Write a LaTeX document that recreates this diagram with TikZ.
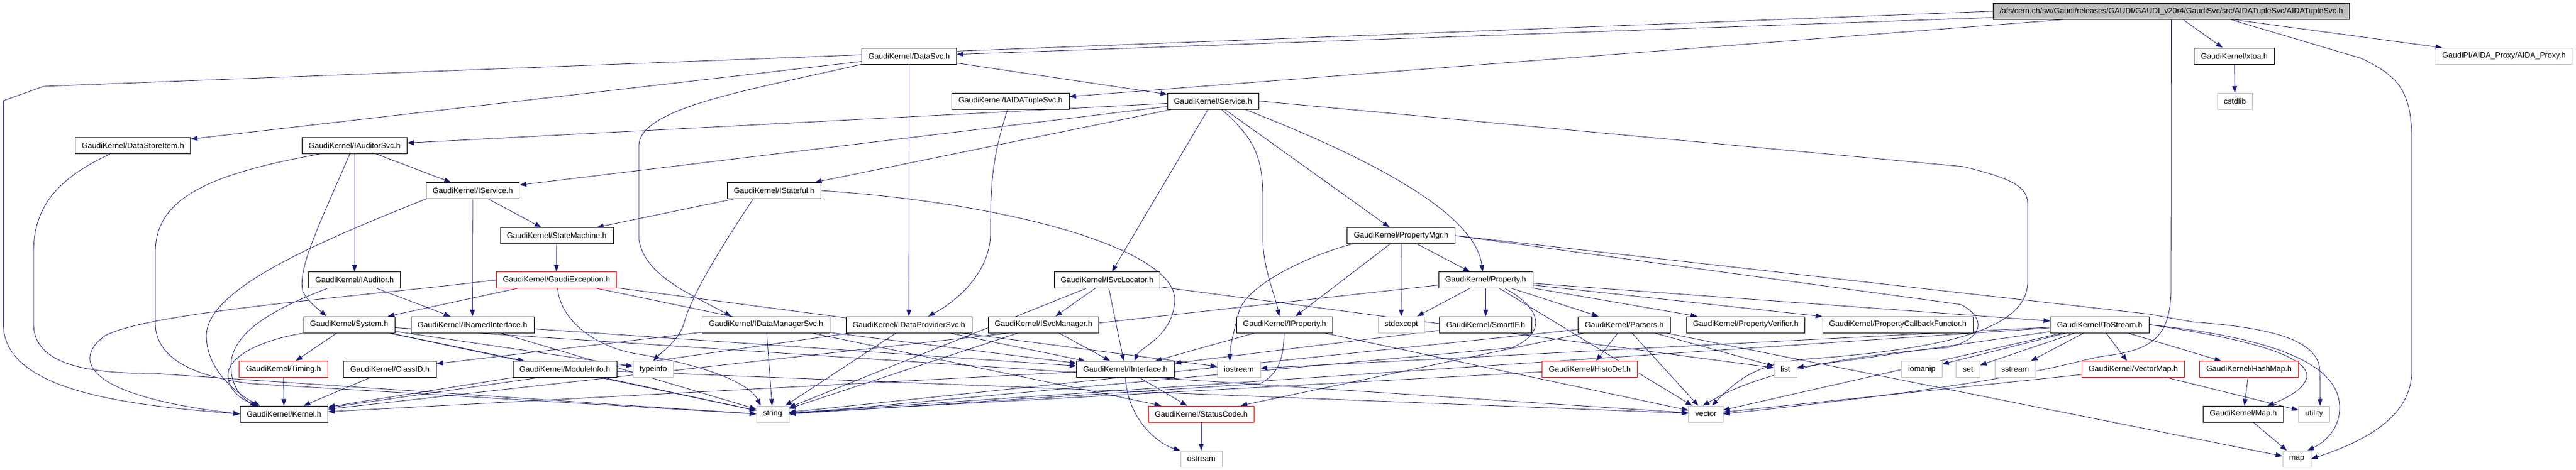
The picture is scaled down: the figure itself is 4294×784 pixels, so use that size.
\documentclass[tikz,border=0pt]{standalone}
\usepackage{fontspec}
\setmainfont{Liberation Sans}
\usepackage{xcolor}
\usepackage{tikz}
\usetikzlibrary{arrows.meta,backgrounds}

\definecolor{edgeblue}{HTML}{191970}
\definecolor{boxgray}{HTML}{BFBFBF}

\begin{document}
\begin{tikzpicture}[x=1pt,y=-1pt,
  box/.style={draw=black,fill=white,line width=0.8pt,minimum height=27pt,inner xsep=11pt,inner ysep=0pt,font=\fontsize{13}{15}\selectfont},
  sysbox/.style={box,draw=boxgray},
  redbox/.style={box,draw=red},
  topbox/.style={box,fill=boxgray},
  dep/.style={draw=edgeblue,line width=0.8pt,-{Triangle[length=11pt,width=8pt]}}]
  \useasboundingbox (0,0) rectangle (4294,784);

  % rows of the include graph
  \node[topbox] (top) at (3619.4,18.8) {/afs/cern.ch/sw/Gaudi/releases/GAUDI/GAUDI\_v20r4/GaudiSvc/src/AIDATupleSvc/AIDATupleSvc.h};
  \node[box] (datasvc) at (1515.5,93.5) {GaudiKernel/DataSvc.h};
  \node[box] (xtoa) at (3724.5,93.5) {GaudiKernel/xtoa.h};
  \node[sysbox] (aidaproxy) at (4174,93.5) {GaudiPI/AIDA\_Proxy/AIDA\_Proxy.h};
  \node[box] (iaidatuplesvc) at (1684.5,168.5) {GaudiKernel/IAIDATupleSvc.h};
  \node[box] (service) at (2022,168.5) {GaudiKernel/Service.h};
  \node[sysbox] (cstdlib) at (3725.4,168.5) {cstdlib};
  \node[box] (datastoreitem) at (221.5,243) {GaudiKernel/DataStoreItem.h};
  \node[box] (iauditorsvc) at (591,243) {GaudiKernel/IAuditorSvc.h};
  \node[box] (iservice) at (788,318) {GaudiKernel/IService.h};
  \node[box] (istateful) at (1290.5,318) {GaudiKernel/IStateful.h};
  \node[box] (statemachine) at (928,393) {GaudiKernel/StateMachine.h};
  \node[box] (propertymgr) at (2335.5,393) {GaudiKernel/PropertyMgr.h};
  \node[box] (iauditor) at (591,467) {GaudiKernel/IAuditor.h};
  \node[redbox] (gaudiexception) at (927.5,467) {GaudiKernel/GaudiException.h};
  \node[box] (isvclocator) at (1845.4,467) {GaudiKernel/ISvcLocator.h};
  \node[box] (property) at (2476.5,467) {GaudiKernel/Property.h};
  \node[box] (system) at (582,541.5) {GaudiKernel/System.h};
  \node[box] (inamedinterface) at (787.5,541.5) {GaudiKernel/INamedInterface.h};
  \node[box] (idatamanagersvc) at (1277,541.5) {GaudiKernel/IDataManagerSvc.h};
  \node[box] (idataprovidersvc) at (1515,541.5) {GaudiKernel/IDataProviderSvc.h};
  \node[box] (isvcmanager) at (1739.5,541.5) {GaudiKernel/ISvcManager.h};
  \node[box] (iproperty) at (2141.4,541.5) {GaudiKernel/IProperty.h};
  \node[sysbox] (stdexcept) at (2336,541.5) {stdexcept};
  \node[box] (smartif) at (2476.5,541.5) {GaudiKernel/SmartIF.h};
  \node[box] (parsers) at (2707.5,541.5) {GaudiKernel/Parsers.h};
  \node[box] (propertyverifier) at (2910,541.5) {GaudiKernel/PropertyVerifier.h};
  \node[box] (propertycallbackfunctor) at (3163.5,541.5) {GaudiKernel/PropertyCallbackFunctor.h};
  \node[box] (tostream) at (3500,541.5) {GaudiKernel/ToStream.h};
  \node[redbox] (timing) at (472.5,616) {GaudiKernel/Timing.h};
  \node[box] (classid) at (650,616) {GaudiKernel/ClassID.h};
  \node[box] (moduleinfo) at (941.5,616) {GaudiKernel/ModuleInfo.h};
  \node[sysbox] (typeinfo) at (1089,616) {typeinfo};
  \node[box] (iinterface) at (1876,616) {GaudiKernel/IInterface.h};
  \node[sysbox] (iostream) at (2065,616) {iostream};
  \node[redbox] (histodef) at (2650,616) {GaudiKernel/HistoDef.h};
  \node[sysbox] (list) at (2976,616) {list};
  \node[sysbox] (iomanip) at (3203.5,616) {iomanip};
  \node[sysbox] (set) at (3280.5,616) {set};
  \node[sysbox] (sstream) at (3359,616) {sstream};
  \node[redbox] (vectormap) at (3556,616) {GaudiKernel/VectorMap.h};
  \node[redbox] (hashmap) at (3749,616) {GaudiKernel/HashMap.h};
  \node[box] (kernel) at (473.4,690.5) {GaudiKernel/Kernel.h};
  \node[sysbox] (string) at (1288,690.5) {string};
  \node[redbox] (statuscode) at (2002.4,690.5) {GaudiKernel/StatusCode.h};
  \node[sysbox] (vector) at (2843.5,690.5) {vector};
  \node[box] (mapheader) at (3739.4,690.5) {GaudiKernel/Map.h};
  \node[sysbox] (utility) at (3857.4,690.5) {utility};
  \node[sysbox] (ostream) at (2002.4,765.5) {ostream};
  \node[sysbox] (map) at (3828.5,765.5) {map};

  \begin{scope}[on background layer]
  \fill[white] (0,0) rectangle (4294,784);
  % straight includes
  \foreach \from/\to in {top/datasvc,top/iaidatuplesvc,top/xtoa,top/aidaproxy,
    datasvc/datastoreitem,datasvc/service,datasvc/idataprovidersvc,
    service/iauditorsvc,service/iservice,service/istateful,service/isvclocator,service/propertymgr,
    xtoa/cstdlib,iauditorsvc/iservice,iauditorsvc/iauditor,
    iservice/inamedinterface,iservice/statemachine,istateful/statemachine,
    statemachine/gaudiexception,gaudiexception/system,gaudiexception/statuscode,gaudiexception/iostream,
    iauditor/inamedinterface,
    system/timing,system/moduleinfo,system/typeinfo,system/string,system/vector,
    timing/kernel,classid/kernel,moduleinfo/kernel,moduleinfo/string,moduleinfo/vector,
    inamedinterface/iinterface,inamedinterface/string,
    idatamanagersvc/iinterface,idatamanagersvc/classid,idatamanagersvc/string,
    idataprovidersvc/iinterface,idataprovidersvc/string,idataprovidersvc/kernel,
    isvclocator/iinterface,isvclocator/isvcmanager,isvclocator/list,isvclocator/string,
    isvcmanager/iinterface,isvcmanager/string,
    iinterface/kernel,iinterface/statuscode,statuscode/ostream,
    propertymgr/iproperty,propertymgr/stdexcept,propertymgr/property,
    property/stdexcept,property/smartif,property/parsers,property/propertyverifier,
    property/propertycallbackfunctor,property/tostream,property/vector,property/kernel,
    iproperty/iinterface,iproperty/vector,smartif/iinterface,
    parsers/histodef,parsers/statuscode,parsers/string,parsers/vector,parsers/list,parsers/map,
    histodef/string,
    tostream/iostream,tostream/list,tostream/iomanip,tostream/set,tostream/sstream,
    tostream/vectormap,tostream/hashmap,tostream/vector,tostream/string,
    vectormap/vector,vectormap/utility,hashmap/mapheader,mapheader/map}
    \draw[dep] (\from) -- (\to);

  % routed includes
  \draw[dep] (top.west) -- (73,144) -- (5.5,168) -- (5.5,540) .. controls (5.5,650) and (200,675) .. (kernel.west);
  \draw[dep] ([xshift=99pt]top.south) -- (3935,97) .. controls (3995,125) and (4020,150) .. (4020,230) -- (4020,620) .. controls (4020,700) and (3930,740) .. (map.east);
  \draw[dep] (top.south) -- (3619,480) .. controls (3619,570) and (3580,585) .. (3500,595) .. controls (3430,610) and (3350,640) .. (vector.east);
  \draw[dep] ([xshift=-38pt]datastoreitem.south) .. controls (90,300) and (56,350) .. (56,420) -- (56,540) .. controls (56,610) and (150,623) .. (257,623) -- (string.west);
  \draw[dep] (datasvc.south west) .. controls (1250,150) and (1065,180) .. (1065,243) -- (1065,400) .. controls (1075,460) and (1150,490) .. ([xshift=-58pt]idatamanagersvc.north);
  \draw[dep] ([xshift=-5pt]iaidatuplesvc.south) .. controls (1655,260) and (1651,300) .. (1651,390) .. controls (1651,450) and (1600,500) .. ([xshift=32pt]idataprovidersvc.north);
  \draw[dep] ([xshift=14pt]service.south) .. controls (2090,230) and (2105,260) .. (2105,330) -- (2105,400) .. controls (2106,450) and (2125,490) .. ([xshift=-9pt]iproperty.north);
  \draw[dep] ([xshift=53pt]service.south) .. controls (2300,270) and (2460,360) .. ([xshift=-5pt]property.north);
  \draw[dep] (service.east) -- (3273,278) .. controls (3350,297) and (3380,310) .. (3380,340) -- (3380,470) .. controls (3380,560) and (3200,585) .. (3000,600) .. controls (2920,610) and (2890,640) .. ([xshift=10pt]vector.north);
  \draw[dep] ([xshift=-58pt]iauditorsvc.south) .. controls (350,290) and (259,330) .. (259,420) -- (259,540) .. controls (259,600) and (330,630) .. (420,640) -- (string.west);
  \draw[dep] ([xshift=-8pt]iauditorsvc.south) .. controls (530,380) and (495,450) .. (505,487) .. controls (515,505) and (530,515) .. ([xshift=-38pt]system.north);
  \draw[dep] (iservice.south west) .. controls (541,400) and (344,480) .. (344,560) .. controls (344,620) and (400,660) .. ([xshift=-40pt]kernel.north);
  \draw[dep] (istateful.east) .. controls (1700,340) and (1960,420) .. (1958,500) .. controls (1957,560) and (1900,580) .. ([xshift=15pt]iinterface.north);
  \draw[dep] ([xshift=-35pt]istateful.south) .. controls (1190,430) and (1150,500) .. (1140,540) .. controls (1130,570) and (1100,590) .. (typeinfo.north);
  \draw[dep] (gaudiexception.west) .. controls (600,495) and (250,520) .. (175,560) .. controls (120,600) and (140,660) .. (kernel.west);
  \draw[dep] ([xshift=2pt]gaudiexception.south) .. controls (935,540) and (1000,580) .. (1060,590) .. controls (1180,610) and (1250,640) .. ([xshift=-20pt]string.north);
  \draw[dep] ([xshift=-45pt]iauditor.south) .. controls (470,510) and (385,550) .. (385,610) .. controls (385,650) and (410,670) .. ([xshift=-42pt]kernel.north);
  \draw[dep] ([xshift=-75pt]system.south) .. controls (420,570) and (380,600) .. (380,625) .. controls (380,650) and (400,665) .. ([xshift=-45pt]kernel.north);
  \draw[dep] ([xshift=32pt]property.south) .. controls (2580,520) and (2570,560) .. (2520,580) -- (string.east);
  \draw[dep] ([xshift=-1pt]iproperty.south) .. controls (2140,600) and (2130,625) .. (2100,640) -- (string.east);
  \draw[dep] (iinterface.south) .. controls (1880,700) and (1930,740) .. (ostream.north west);
  \draw[dep] ([xshift=-80pt]propertymgr.south) .. controls (2200,420) and (2080,470) .. (2065,520) .. controls (2055,560) and (2050,580) .. ([xshift=-15pt]iostream.north);
  \draw[dep] (propertymgr.east) -- (3269,508) .. controls (3310,530) and (3310,565) .. (3245,580) .. controls (3000,600) and (2900,640) .. ([xshift=-5pt]vector.north);
  \draw[dep] (propertymgr.east) -- (3583,524) -- (3655,537) .. controls (3760,545) and (3867,560) .. (3867,620) -- ([xshift=10pt]utility.north);
  \draw[dep] (tostream.east) .. controls (3800,565) and (3900,610) .. (3900,680) .. controls (3900,720) and (3870,740) .. ([xshift=18pt]map.north);
  \draw[dep] (tostream.east) .. controls (3780,570) and (3850,600) .. (3845,630) .. controls (3840,650) and (3810,665) .. ([xshift=40pt]mapheader.north);
  \end{scope}
\end{tikzpicture}
\end{document}
